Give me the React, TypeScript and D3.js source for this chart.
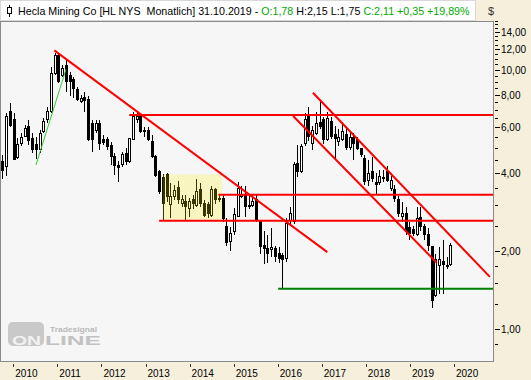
import React from "react";
import * as d3 from "d3";

const W = 531;
const H = 380;

// Monthly candles, Oct 2009 .. Oct 2019
const openP = [4.42,4.23,6.90,6.41,4.60,5.19,5.53,6.07,5.45,5.16,4.94,5.78,6.41,6.90,9.71,11.42,9.56,10.45,9.56,9.20,8.43,7.55,7.83,7.71,6.23,5.86,6.23,5.40,5.37,5.13,4.63,4.27,4.30,4.74,4.42,5.40,6.41,6.64,5.86,5.86,5.29,4.63,4.05,3.85,3.95,3.02,3.24,3.52,3.06,3.10,2.93,3.15,3.01,3.46,3.06,3.02,2.75,3.46,3.15,3.20,2.48,2.17,2.37,2.73,3.24,3.27,3.00,3.00,3.15,2.60,2.10,2.05,2.03,2.05,1.96,1.93,1.87,2.62,2.60,4.36,4.05,5.18,6.60,5.20,5.69,6.25,6.41,5.40,6.35,5.65,5.29,5.37,5.65,5.00,5.48,5.37,4.98,4.55,3.76,4.05,3.68,3.68,3.85,4.05,3.50,3.47,3.15,2.72,2.79,2.46,2.43,2.32,2.70,2.48,2.31,2.08,1.35,1.76,1.82,1.74,1.78];
const highP = [4.70,6.80,7.43,6.80,5.45,5.69,6.13,6.41,5.69,5.53,5.86,6.52,7.21,10.30,11.66,11.60,10.45,10.92,9.85,9.43,8.63,8.00,8.25,7.90,6.41,6.41,6.41,5.61,5.50,5.29,4.77,4.47,4.84,4.98,5.45,6.90,6.80,6.70,6.00,6.00,5.61,4.70,4.11,3.97,4.00,3.65,3.60,3.74,3.30,3.28,3.20,3.30,3.80,3.65,3.15,3.10,3.55,3.50,3.30,3.30,2.68,2.48,2.92,3.70,3.55,3.55,3.30,3.30,3.30,2.64,2.40,2.30,2.45,2.10,2.08,1.97,2.68,2.95,4.40,5.13,5.20,6.80,7.20,6.10,6.90,7.60,6.60,6.90,6.60,6.10,5.90,6.30,6.00,5.70,5.70,5.50,5.00,4.70,4.50,4.60,4.00,4.10,4.10,4.25,3.90,3.60,3.25,3.10,2.95,2.60,2.50,2.95,2.95,2.55,2.45,2.10,1.95,2.08,2.20,1.90,2.15];
const lowP = [3.78,3.90,6.05,4.49,4.55,5.09,5.50,5.13,4.77,4.52,4.77,5.69,6.23,6.80,9.56,8.90,9.40,8.25,7.90,7.76,7.60,7.43,6.90,5.30,4.84,5.70,4.91,5.13,4.91,4.30,3.93,3.70,4.23,4.30,4.38,5.37,6.23,5.69,5.53,5.30,4.56,3.87,3.32,2.64,3.10,2.68,3.15,3.05,2.95,2.64,2.70,2.90,2.95,2.95,2.70,2.68,2.70,3.05,3.10,2.60,2.10,2.00,2.30,2.70,3.20,2.70,2.90,2.95,2.60,1.95,1.78,1.80,1.90,1.82,1.80,1.43,1.82,2.50,2.55,3.87,4.00,5.10,5.30,4.90,5.60,5.90,5.20,5.30,5.40,4.50,5.10,5.30,4.90,4.90,4.50,4.90,4.60,3.60,3.55,3.70,3.30,3.60,3.70,3.70,3.40,3.10,2.70,2.60,2.30,2.20,2.28,2.28,2.40,2.20,2.00,1.20,1.33,1.37,1.37,1.70,1.75];
const closeP = [4.08,6.64,6.13,4.52,5.16,5.48,5.95,5.34,4.91,4.94,5.69,6.32,6.90,9.71,11.42,9.01,10.14,9.01,9.01,8.50,7.66,7.76,7.60,5.37,5.37,6.23,5.20,5.25,5.06,4.63,4.26,4.21,4.70,4.42,5.42,6.60,6.60,5.78,5.78,5.37,4.63,3.90,3.39,3.04,3.24,3.24,3.42,3.15,3.15,2.97,3.10,3.06,3.39,3.04,2.75,2.78,3.46,3.15,3.20,2.68,2.16,2.34,2.77,3.49,3.30,2.97,2.98,3.10,2.64,2.08,2.05,1.96,2.07,1.91,1.87,1.86,2.55,2.79,4.30,4.05,5.06,6.45,5.53,5.86,6.23,6.04,5.40,6.50,5.53,5.45,5.48,5.78,5.02,5.48,5.20,4.98,4.70,3.70,3.98,3.82,3.62,3.87,3.82,3.76,3.76,3.19,2.79,2.79,2.38,2.34,2.34,2.68,2.48,2.31,2.11,1.29,1.85,1.85,1.78,1.76,2.11];

const yearLabels = [2010, 2011, 2012, 2013, 2014, 2015, 2016, 2017, 2018, 2019, 2020];
const majorTicks = [1, 2, 4, 6, 8, 10, 12, 14];
const minorTicks = [0.875, 1.25, 1.5, 1.75, 2.5, 3, 3.5, 4.5, 5, 5.5, 6.5, 7, 7.5, 8.5, 9, 9.5, 10.5, 11, 11.5, 12.5, 13, 13.5, 14.5, 15, 15.5];

// annotation lines: [index1, price1, index2, price2]
const redLines = [
  [13.93, 11.9, 87.06, 1.98],
  [34.0, 6.7, 131.5, 6.7],
  [57.9, 3.3, 131.5, 3.3],
  [42.0, 2.62, 131.5, 2.62],
  [83.2, 8.17, 130.6, 1.59],
  [77.9, 6.64, 116.4, 1.8],
];
const greenLine = [73.9, 1.43, 131.5, 1.43];
const lightGreenLine = [9.03, 4.3, 17.06, 10.06];
const boxRange = [42.9, 2.62, 58.9, 3.95];

const fmt = (v: number) => d3.format(".2f")(v).replace(".", ",");

export default function App() {
  const plotL = 0, plotR = 493, plotT = 21, plotB = 361;
  const x = d3.scaleLinear().domain([0, 120]).range([2.3, 450.3]);
  const y = d3.scaleLog().domain([0.7525, 15.317]).range([361, 22]);
  const xYear = d3.scaleLinear().domain([2010, 2020]).range([13.3, 454]);
  const font = "'Liberation Sans', Arial, sans-serif";

  return (
    <svg width={W} height={H} style={{ position: "absolute", left: 0, top: 0 }} fontFamily={font}>
      <defs>
        <clipPath id="plotclip">
          <rect x={plotL + 1} y={plotT} width={plotR - plotL - 1} height={plotB - plotT} />
        </clipPath>
      </defs>
      <rect x={0} y={0} width={W} height={H} fill="#f5efdc" />
      <rect x={plotL + 0.5} y={plotT + 0.5} width={plotR - plotL} height={plotB - plotT} fill="#f6f6f6" stroke="#8a8a8a" />

      {/* logo */}
      <g>
        <rect x={8} y={322} width={36} height={24} rx={5} fill="#c9c9c9" />
        <text x={12} y={345} fontSize={12} fontWeight="bold" fill="#f2f2f2" textLength={29} lengthAdjust="spacingAndGlyphs">ON</text>
        <text x={45} y={345} fontSize={12} fontWeight="bold" fill="#c2c2c2" textLength={56} lengthAdjust="spacingAndGlyphs">LINE</text>
        <text x={50} y={331.5} fontSize={7.5} fontWeight="bold" fill="#b9b9b9" textLength={47} lengthAdjust="spacingAndGlyphs">Tradesignal</text>
      </g>

      <g clipPath="url(#plotclip)" shapeRendering="crispEdges">
        {openP.map((o, i) => {
          const c = closeP[i];
          const cx = Math.round(x(i)) + 0.5;
          const up = c >= o;
          const yt = y(Math.max(o, c));
          const yb = y(Math.min(o, c));
          return (
            <g key={i}>
              <line x1={cx} x2={cx} y1={y(highP[i])} y2={y(lowP[i])} stroke="#000" strokeWidth={1} />
              <rect x={cx - 1} y={yt} width={2} height={Math.max(1, yb - yt)} fill={up ? "#fff" : "#000"} stroke="#000" strokeWidth={1} />
            </g>
          );
        })}
      </g>

      <g clipPath="url(#plotclip)">
        <rect x={x(boxRange[0])} y={y(boxRange[3])} width={x(boxRange[2]) - x(boxRange[0])} height={y(boxRange[1]) - y(boxRange[3])} fill="#fff000" fillOpacity={0.22} />
        {redLines.map((l, i) => (
          <line key={i} x1={x(l[0])} y1={y(l[1])} x2={x(l[2])} y2={y(l[3])} stroke="#ff0000" strokeWidth={2} />
        ))}
        <line x1={x(greenLine[0])} y1={y(greenLine[1])} x2={x(greenLine[2])} y2={y(greenLine[3])} stroke="#008000" strokeWidth={2} />
        <line x1={x(lightGreenLine[0])} y1={y(lightGreenLine[1])} x2={x(lightGreenLine[2])} y2={y(lightGreenLine[3])} stroke="#33cc33" strokeWidth={1} />
      </g>

      {/* y axis */}
      <g shapeRendering="crispEdges">
        {minorTicks.map((v) => (
          <line key={"m" + v} x1={495} x2={497.5} y1={Math.round(y(v)) + 0.5} y2={Math.round(y(v)) + 0.5} stroke="#000" />
        ))}
        {majorTicks.map((v) => (
          <line key={"M" + v} x1={495} x2={499.5} y1={Math.round(y(v)) + 0.5} y2={Math.round(y(v)) + 0.5} stroke="#000" />
        ))}
      </g>
      {majorTicks.map((v) => (
        <text key={"t" + v} x={501} y={y(v) + 4} fontSize={10} fill="#000">{fmt(v)}</text>
      ))}

      {/* x axis */}
      <g shapeRendering="crispEdges">
        {yearLabels.map((yr) => (
          <line key={"yt" + yr} x1={Math.round(xYear(yr)) + 0.5} x2={Math.round(xYear(yr)) + 0.5} y1={364} y2={367} stroke="#333" />
        ))}
      </g>
      {yearLabels.map((yr) => (
        <text key={"yl" + yr} x={xYear(yr) + 2} y={376.5} fontSize={10} fill="#000">{yr}</text>
      ))}

      {/* header */}
      <rect x={0.5} y={0.5} width={475} height={20} fill="#ffffff" stroke="#d8d8d8" />
      <g shapeRendering="crispEdges">
        <line x1={9.5} x2={9.5} y1={5} y2={17} stroke="#000" />
        <rect x={7.5} y={7.5} width={4} height={6} fill="#fff" stroke="#000" />
      </g>
      <text x={18} y={15} fontSize={10.7} fill="#000" style={{ whiteSpace: "pre" }}>
        <tspan>{"Hecla Mining Co [HL NYS  Monatlich] 31.10.2019 - "}</tspan>
        <tspan fill="#00aa00">O:1,78</tspan>
        <tspan>{" H:2,15 L:1,75 "}</tspan>
        <tspan fill="#00aa00">C:2,11 +0,35 +19,89%</tspan>
      </text>
      <text x={488} y={15} fontSize={11} fill="#333">$</text>
    </svg>
  );
}
